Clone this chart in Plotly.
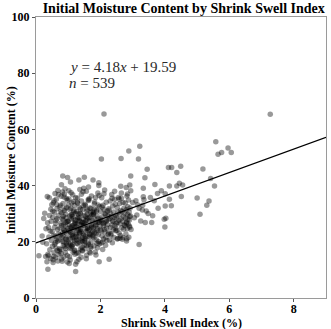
import plotly.graph_objects as go

# Sparse / outlying points
ssi_sparse = [2.11, 7.27, 5.58, 5.65, 5.76, 5.96, 6.06, 2.88, 3.22, 2.03, 2.64, 3.18, 3.45, 4.11, 4.21,
              4.49, 4.37, 5.18, 5.42, 5.54, 5.00, 5.09, 5.30, 5.37, 4.51, 4.45, 4.55, 4.37, 4.14, 4.01,
              4.14, 4.20, 4.01, 3.98, 4.03, 4.00, 3.89, 3.77, 3.69, 3.67, 3.79, 3.59, 3.39, 3.48, 3.38,
              3.33, 3.20, 2.94, 2.91, 2.63, 2.80, 2.84, 2.58, 2.65, 2.36, 3.33, 3.35, 3.31, 3.10, 3.00,
              3.20, 3.30, 3.13, 2.90, 2.85, 2.80, 2.90, 2.95, 2.70, 2.82, 2.60, 2.52, 2.81, 2.27, 1.96,
              1.23, 0.37, 3.05, 3.15, 3.25, 3.42, 3.55, 3.62]
mc_sparse = [65.5, 65.4, 55.6, 51.2, 51.8, 53.4, 51.8, 52.3, 54.0, 49.5, 49.6, 49.5, 45.8, 46.4, 46.4,
             46.9, 44.7, 45.9, 42.5, 39.9, 35.6, 29.8, 33.0, 34.5, 36.1, 40.8, 40.2, 39.9, 39.9, 37.1,
             35.1, 32.8, 32.7, 28.0, 28.4, 25.3, 38.2, 37.2, 40.4, 34.6, 31.9, 26.9, 26.9, 30.1, 42.8,
             39.1, 19.0, 43.4, 40.2, 39.8, 39.3, 37.0, 35.2, 35.5, 35.5, 36.0, 35.0, 33.0, 34.6, 34.0,
             31.9, 31.3, 29.5, 29.0, 27.9, 26.5, 25.6, 24.4, 21.5, 21.1, 21.3, 21.0, 20.3, 13.8, 12.9,
             9.4, 10.2, 28.6, 33.2, 27.4, 31.0, 35.8, 29.3]

# Dense cluster, read bin by bin
ssi_dense = [
    0.09, 0.19, 0.21, 0.24,
    0.27, 0.30, 0.31, 0.33, 0.35, 0.36, 0.37, 0.38, 0.40, 0.41, 0.42, 0.43, 0.44, 0.45, 0.46, 0.47, 0.48, 0.49, 0.34, 0.39,
    0.51, 0.52, 0.53, 0.54, 0.55, 0.56, 0.57, 0.58, 0.59, 0.60, 0.61, 0.62, 0.63, 0.64, 0.65, 0.66, 0.67, 0.68, 0.69, 0.70,
    0.71, 0.72, 0.73, 0.74, 0.50, 0.53, 0.56, 0.59, 0.62, 0.65, 0.68, 0.71, 0.74, 0.52, 0.58, 0.64, 0.70, 0.55, 0.61, 0.67,
    0.75, 0.76, 0.77, 0.78, 0.79, 0.80, 0.81, 0.82, 0.83, 0.84, 0.85, 0.86, 0.87, 0.88, 0.89, 0.90, 0.91, 0.92, 0.93, 0.94,
    0.95, 0.96, 0.97, 0.98, 0.99, 0.76, 0.78, 0.80, 0.82, 0.84, 0.86, 0.88, 0.90, 0.92, 0.94, 0.96, 0.98, 0.77, 0.79, 0.81,
    0.83, 0.85, 0.87, 0.89, 0.91, 0.93, 0.95, 0.97, 0.99, 0.80, 0.84, 0.88, 0.92, 0.96, 0.86,
    1.00, 1.01, 1.02, 1.03, 1.04, 1.05, 1.06, 1.07, 1.08, 1.09, 1.10, 1.11, 1.12, 1.13, 1.14, 1.15, 1.16, 1.17, 1.18, 1.19,
    1.20, 1.21, 1.22, 1.23, 1.24, 1.00, 1.02, 1.04, 1.06, 1.08, 1.10, 1.12, 1.14, 1.16, 1.18, 1.20, 1.22, 1.24,
    1.01, 1.03, 1.05, 1.07, 1.09, 1.11, 1.13, 1.15, 1.17, 1.19, 1.21, 1.23, 1.02, 1.06, 1.10, 1.14, 1.18, 1.22, 1.04, 1.12,
    1.20, 1.08,
    1.25, 1.26, 1.27, 1.28, 1.29, 1.30, 1.31, 1.32, 1.33, 1.34, 1.35, 1.36, 1.37, 1.38, 1.39, 1.40, 1.41, 1.42, 1.43, 1.44,
    1.45, 1.46, 1.47, 1.48, 1.49, 1.25, 1.27, 1.29, 1.31, 1.33, 1.35, 1.37, 1.39, 1.41, 1.43, 1.45, 1.47, 1.49,
    1.26, 1.28, 1.30, 1.32, 1.34, 1.36, 1.38, 1.40, 1.42, 1.44, 1.46, 1.48, 1.27, 1.31, 1.35, 1.39, 1.43, 1.47, 1.29, 1.37,
    1.45, 1.33,
    1.50, 1.51, 1.52, 1.53, 1.54, 1.55, 1.56, 1.57, 1.58, 1.59, 1.60, 1.61, 1.62, 1.63, 1.64, 1.65, 1.66, 1.67, 1.68, 1.69,
    1.70, 1.71, 1.72, 1.73, 1.74, 1.50, 1.52, 1.54, 1.56, 1.58, 1.60, 1.62, 1.64, 1.66, 1.68, 1.70, 1.72, 1.74,
    1.51, 1.53, 1.55, 1.57, 1.59, 1.61, 1.63, 1.65, 1.67, 1.69, 1.71, 1.73, 1.53, 1.59, 1.65, 1.71, 1.55,
    1.75, 1.76, 1.77, 1.78, 1.79, 1.80, 1.81, 1.82, 1.83, 1.84, 1.85, 1.86, 1.87, 1.88, 1.89, 1.90, 1.91, 1.92, 1.93, 1.94,
    1.95, 1.96, 1.97, 1.95, 1.99, 1.76, 1.78, 1.80, 1.82, 1.84, 1.86, 1.88, 1.90, 1.92, 1.94, 1.96, 1.98,
    1.77, 1.81, 1.85, 1.89, 1.93, 1.97, 1.79, 1.87,
    2.00, 2.01, 2.02, 2.03, 2.04, 2.05, 2.06, 2.07, 2.08, 2.09, 2.10, 2.11, 2.12, 2.13, 2.14, 2.15, 2.16, 2.17, 2.18, 2.19,
    2.20, 2.21, 2.22, 2.23, 2.24, 2.01, 2.03, 2.05, 2.07, 2.09, 2.11, 2.13, 2.15, 2.17, 2.19,
    2.25, 2.26, 2.27, 2.28, 2.29, 2.30, 2.31, 2.32, 2.33, 2.34, 2.35, 2.36, 2.37, 2.38, 2.39, 2.40, 2.41, 2.42, 2.43, 2.44,
    2.45, 2.46, 2.47, 2.48, 2.49, 2.26, 2.32, 2.38, 2.44, 2.48,
    2.50, 2.51, 2.52, 2.53, 2.54, 2.55, 2.56, 2.57, 2.58, 2.59, 2.60, 2.61, 2.62, 2.63, 2.64, 2.65, 2.66, 2.67, 2.68, 2.69,
    2.70, 2.71, 2.72, 2.73, 2.74,
    2.75, 2.76, 2.77, 2.78, 2.79, 2.80, 2.81, 2.82, 2.83, 2.84, 2.85, 2.86, 2.87, 2.88, 2.89, 2.90, 2.91, 2.92, 2.93, 2.94,
]
mc_dense = [
    15.0, 22.1, 19.8, 28.3,
    30.2, 14.8, 24.6, 19.3, 36.1, 26.8, 15.6, 15.0, 21.7, 35.7, 29.4, 17.2, 23.8, 14.1, 31.6, 27.3, 20.5, 33.2, 12.9, 25.1,
    18.4, 28.7, 13.6, 33.9, 22.3, 16.1, 30.5, 25.2, 37.2, 19.7, 14.3, 27.6, 35.1, 21.0, 31.8, 16.9, 24.4, 13.2, 29.3, 36.8,
    20.6, 16.6, 17.5, 32.4, 23.7, 12.6, 34.6, 21.9, 17.8, 28.2, 38.3, 15.4, 24.9, 30.9, 19.1, 33.3, 22.8, 14.9, 26.5, 20.2,
    22.4, 30.7, 17.3, 36.2, 25.8, 13.9, 28.4, 20.1, 43.4, 33.6, 18.7, 26.2, 14.6, 31.1, 23.5, 38.9, 16.2, 29.8, 21.3, 35.4,
    19.4, 27.1, 12.8, 42.9, 24.7, 33.0, 15.8, 21.6, 37.7, 27.9, 19.9, 24.1, 31.8, 17.6, 28.6, 22.9, 34.8, 26.6, 40.3, 13.1,
    23.2, 29.1, 35.9, 18.2, 25.5, 20.8, 32.2, 15.1, 27.4, 30.3, 22.0, 37.0, 26.9, 18.9, 24.3,
    27.3, 19.6, 35.2, 23.8, 14.7, 31.4, 21.2, 41.3, 17.9, 29.6, 25.1, 33.8, 18.4, 22.7, 36.7, 16.3, 28.2, 24.4, 20.6, 32.9,
    26.5, 15.6, 30.1, 12.0, 23.1, 20.9, 38.2, 26.0, 13.5, 31.9, 22.3, 28.9, 19.0, 34.3, 24.9, 17.1, 27.7, 21.8,
    33.1, 12.3, 29.2, 23.4, 37.5, 18.6, 25.7, 21.5, 30.6, 16.8, 26.8, 35.7, 24.0, 19.3, 28.0, 22.1, 31.2, 26.3, 17.6, 29.7,
    20.3, 25.4,
    22.6, 30.8, 15.9, 26.4, 35.6, 19.2, 28.7, 24.1, 13.8, 32.3, 21.0, 38.6, 27.2, 17.4, 29.9, 23.6, 34.5, 20.4, 25.8, 16.7,
    31.5, 22.9, 28.1, 39.1, 18.8, 25.3, 12.9, 33.7, 21.7, 27.6, 19.8, 30.2, 24.5, 36.9, 17.0, 26.9, 22.2, 29.4,
    20.7, 34.1, 24.8, 16.1, 28.5, 23.0, 31.7, 14.5, 27.0, 21.4, 37.8, 25.9, 19.5, 30.0, 23.3, 26.1, 18.1, 32.8, 28.3, 24.2,
    20.0, 42.0,
    26.7, 20.3, 33.4, 17.5, 29.1, 23.7, 38.0, 15.2, 27.8, 31.6, 21.9, 25.0, 35.0, 19.0, 28.6, 24.4, 16.4, 32.0, 22.5, 30.3,
    18.3, 26.0, 36.3, 23.2, 29.5, 43.0, 21.1, 27.5, 14.0, 31.0, 24.7, 19.6, 34.7, 22.8, 28.8, 17.8, 25.6, 30.7,
    20.5, 33.0, 26.3, 18.7, 29.8, 23.9, 39.5, 21.6, 27.3, 16.0, 31.9, 25.2, 22.0, 28.4, 35.3, 19.9, 24.6,
    27.6, 21.8, 42.0, 25.0, 30.4, 18.5, 33.5, 23.3, 28.0, 16.4, 35.8, 26.2, 20.7, 31.3, 24.1, 29.2, 17.9, 37.4, 22.6, 27.0,
    41.0, 19.2, 32.6, 40.0, 25.5, 23.8, 29.9, 21.4, 34.2, 26.8, 15.3, 30.9, 24.7, 28.3, 20.1, 36.5, 27.4,
    22.3, 31.7, 25.8, 19.5, 33.1, 26.9, 29.6, 23.0,
    24.2, 30.8, 19.6, 27.4, 35.7, 22.1, 28.9, 17.3, 33.0, 25.6, 21.0, 31.5, 26.8, 38.4, 23.5, 29.7, 18.8, 27.1, 34.1, 24.9,
    20.5, 31.0, 26.2, 29.3, 22.7, 28.0, 23.8, 32.4, 19.9, 26.5, 37.1, 24.4, 30.1, 21.6, 27.7,
    27.9, 23.2, 31.2, 20.6, 28.3, 34.5, 25.1, 30.0, 22.4, 29.0, 36.8, 26.0, 19.7, 32.7, 27.5, 24.3, 30.6, 21.5, 28.7, 38.0,
    25.8, 33.4, 23.9, 29.4, 26.6, 31.8, 22.9, 27.2, 35.1, 24.8,
    28.6, 24.0, 32.2, 26.9, 21.2, 30.5, 35.8, 27.7, 23.1, 29.9, 33.6, 26.4, 22.2, 31.1, 28.2, 37.4, 25.0, 30.8, 20.9, 27.3,
    34.0, 29.0, 24.5, 31.9, 26.0,
    30.1, 25.7, 33.8, 28.4, 22.8, 31.4, 27.0, 36.3, 24.6, 29.7, 32.5, 26.3, 34.9, 21.6, 30.6, 27.8, 25.2, 32.0, 29.2, 38.2,
]

ssi = ssi_dense + ssi_sparse
moisture = mc_dense + mc_sparse

slope = 4.18
intercept = 19.59
n_samples = 539
line_x = [0, 9]
line_y = [slope * v + intercept for v in line_x]

x_ticks = [0, 2, 4, 6, 8]
y_ticks = [0, 20, 40, 60, 80, 100]

fig = go.Figure()
fig.add_trace(go.Scatter(
    x=ssi, y=moisture, mode="markers",
    marker=dict(color="black", opacity=0.4, size=5.5, line=dict(width=0)),
    hoverinfo="skip", showlegend=False,
))
fig.add_trace(go.Scatter(
    x=line_x, y=line_y, mode="lines",
    line=dict(color="black", width=1.2), showlegend=False,
))

serif = "Liberation Serif, Times New Roman, serif"
axis_common = dict(
    showgrid=False, zeroline=False, showline=True, linecolor="#9a9a9a", linewidth=1,
    mirror=True, ticks="outside", ticklen=3, tickcolor="#555555", automargin=False,
    tickfont=dict(family=serif, size=12, color="black", weight="bold"),
)
fig.update_xaxes(range=[0, 9], tickvals=x_ticks, ticklabelstandoff=-3, **axis_common)
fig.update_yaxes(range=[0, 100], tickvals=y_ticks, **axis_common)

title_font = dict(family=serif, size=12, color="black")
fig.add_annotation(
    x=0.5, y=-0.088, xref="paper", yref="paper", xanchor="center", yanchor="middle",
    showarrow=False, text="<b>Shrink Swell Index (%)</b>", font=title_font,
)
fig.add_annotation(
    x=-0.086, y=0.49, xref="paper", yref="paper", xanchor="center", yanchor="middle",
    showarrow=False, textangle=-90, text="<b>Initial Moisture Content (%)</b>", font=title_font,
)

ann_font = dict(family=serif, size=15, color="#2a2a2a")
fig.add_annotation(
    x=0.95, y=82.2, xref="x", yref="y", xanchor="left", yanchor="middle", showarrow=False,
    text=f"<i>y</i> = {slope}<i>x</i> + {intercept}", font=ann_font,
)
fig.add_annotation(
    x=0.95, y=76.6, xref="x", yref="y", xanchor="left", yanchor="middle", showarrow=False,
    text=f"<i>n</i> = {n_samples}", font=ann_font,
)

fig.update_layout(
    width=331, height=329,
    margin=dict(l=36, r=5, t=17, b=31, autoexpand=False),
    paper_bgcolor="white", plot_bgcolor="white",
    title=dict(text="<b>Initial Moisture Content by Shrink Swell Index</b>",
               font=dict(family=serif, size=14, color="black"),
               x=0.555, xanchor="center", y=0.99, yanchor="top"),
)

fig.write_html("out.html")
